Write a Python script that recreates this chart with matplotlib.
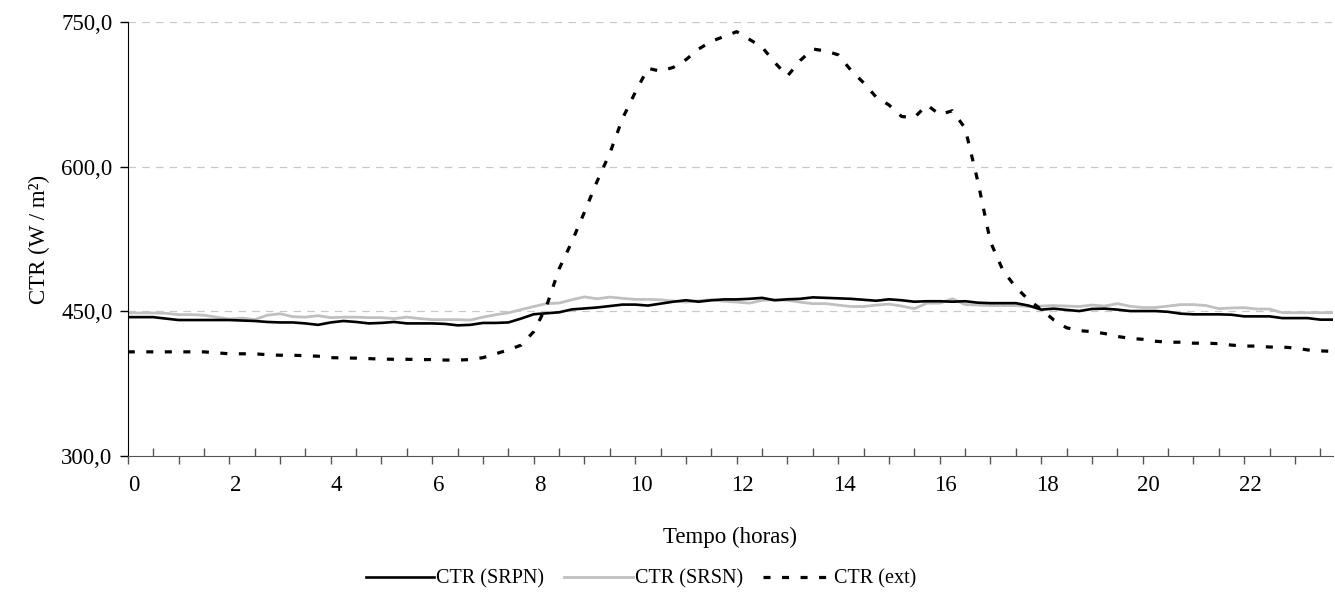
import numpy as np
import matplotlib
matplotlib.use('Agg')
from matplotlib import pyplot as plt
from matplotlib.ticker import MultipleLocator, FuncFormatter
from matplotlib.transforms import ScaledTranslation

# Data: 15-minute steps over one day
horas = np.arange(96) * 0.25

ctr_srpn = [444, 444, 444, 442.5, 441, 441, 441, 441, 441, 440.5, 440, 439,
            438.5, 438.5, 437.5, 436, 438.5, 440, 439, 437.5, 438, 439, 437.5, 437.5,
            437.5, 437, 435.5, 436, 438, 438, 438.5, 442.5, 447, 448, 449, 452,
            453, 454, 455.5, 457, 457, 456, 458, 460, 461.5, 460, 461.5, 462.4,
            462.4, 463, 464, 461.5, 462.5, 463, 464.5, 464, 463.5, 463, 462, 461,
            462.5, 461.5, 460, 460.5, 460.5, 460, 460.5, 459, 458.5, 458.5, 458.5, 456,
            451.8, 452.8, 451.5, 450.3, 452.5, 452.8, 451.8, 450.3, 450.3, 450.3, 449.5, 447.6,
            446.9, 446.9, 446.9, 446.5, 444.8, 444.8, 444.8, 443, 443, 443, 441.4, 441.4]

ctr_srsn = [448.3, 448.3, 448.3, 448, 446.6, 446.6, 446, 444, 442, 443, 441.4, 446,
            447.5, 444.5, 444, 445.5, 443.5, 444, 444, 443.5, 443.5, 442.5, 444, 442.5,
            441.4, 441.4, 441.4, 441, 444, 446.5, 448.5, 451.8, 455, 458, 458.6, 462,
            465, 463, 464.8, 463.5, 462.4, 462.4, 462, 460.7, 459.6, 461, 462, 460.5,
            459.6, 458.5, 461.4, 462, 461.5, 459.5, 458, 458, 456.5, 455, 455, 456.5,
            457.5, 455.5, 452.8, 458.5, 458.5, 463, 457, 456.5, 456, 456, 456, 455,
            455.5, 456, 455.5, 455, 456.5, 455.5, 458, 455.3, 454, 454, 455.5, 457,
            457, 456, 452.8, 453.5, 453.8, 452.4, 452.4, 448.6, 448.6, 448.6, 448.6, 448.6]

ctr_ext = [408, 408, 408, 408, 408, 408, 408, 407, 406, 406, 406, 405,
           404.5, 404.5, 404, 403.5, 402, 401.7, 401.5, 401, 400.5, 400.3, 400.3, 400,
           400, 399.5, 399.5, 400, 402, 406, 410, 415, 429, 455, 494, 522,
           553, 585, 614, 650, 677, 702, 699, 703, 711, 722, 730, 735,
           740, 732, 724, 708, 694, 710, 722, 720, 716, 700, 687, 672,
           664, 652, 651, 664, 654, 658, 640, 585, 522, 492, 475, 462,
           452, 441, 433, 430, 429, 427, 424, 422, 421, 419, 418, 418,
           417, 417, 416.5, 415, 414, 414, 413, 413, 412, 410, 409, 408.5]

y_ticks = [300, 450, 600, 750]

plt.rcParams['font.family'] = ['Liberation Serif', 'DejaVu Serif']

fig = plt.figure(figsize=(13.35, 5.92), dpi=100)
ax = fig.add_axes([0.0957, 0.2297, 0.9028, 0.7331])

for v in y_ticks[1:]:
    ax.axhline(v, color='#c8c8c8', lw=0.9, ls=(0, (6, 5)), zorder=0)

ax.plot(horas, ctr_srpn, color='black', lw=1.9, label='CTR (SRPN)', zorder=3)
ax.plot(horas, ctr_srsn, color='#c0c0c0', lw=2.0, label='CTR (SRSN)', zorder=2)
ax.plot(horas, ctr_ext, color='black', lw=2.3, ls=(0, (2.2, 3.6)), label='CTR (ext)', zorder=4)

ax.set_xlim(0, 23.75)
ax.set_ylim(300, 750)

ax.spines['top'].set_visible(False)
ax.spines['right'].set_visible(False)
ax.spines['bottom'].set_color('#555555')

ax.xaxis.set_major_locator(MultipleLocator(1))
ax.xaxis.set_minor_locator(MultipleLocator(0.5))
ax.xaxis.set_major_formatter(FuncFormatter(lambda x, p: f'{int(round(x))}' if round(x) % 2 == 0 else ''))
ax.tick_params(axis='x', which='major', direction='out', length=6, width=1, color='#555555',
               labelsize=16.5, pad=8)
ax.tick_params(axis='x', which='minor', direction='in', length=6, width=1, color='#555555')
offset = ScaledTranslation(6 / 100, 0, fig.dpi_scale_trans)
for lab in ax.get_xticklabels():
    lab.set_transform(lab.get_transform() + offset)

ax.set_yticks(y_ticks)
ax.yaxis.set_major_formatter(FuncFormatter(lambda y, p: f'{y:.1f}'.replace('.', ',')))
ax.tick_params(axis='y', direction='out', length=6, width=1, labelsize=16.5, pad=5)

ax.set_xlabel('Tempo (horas)', fontsize=16.5, labelpad=22)
ax.set_ylabel('CTR (W / m²)', fontsize=16.5, labelpad=8)

fig.legend(loc='lower center', bbox_to_anchor=(0.48, -0.025), ncol=3, frameon=False,
           fontsize=14.5, handlelength=3.4, columnspacing=1.0, handletextpad=0.1)

plt.savefig('out.png', dpi=100)
